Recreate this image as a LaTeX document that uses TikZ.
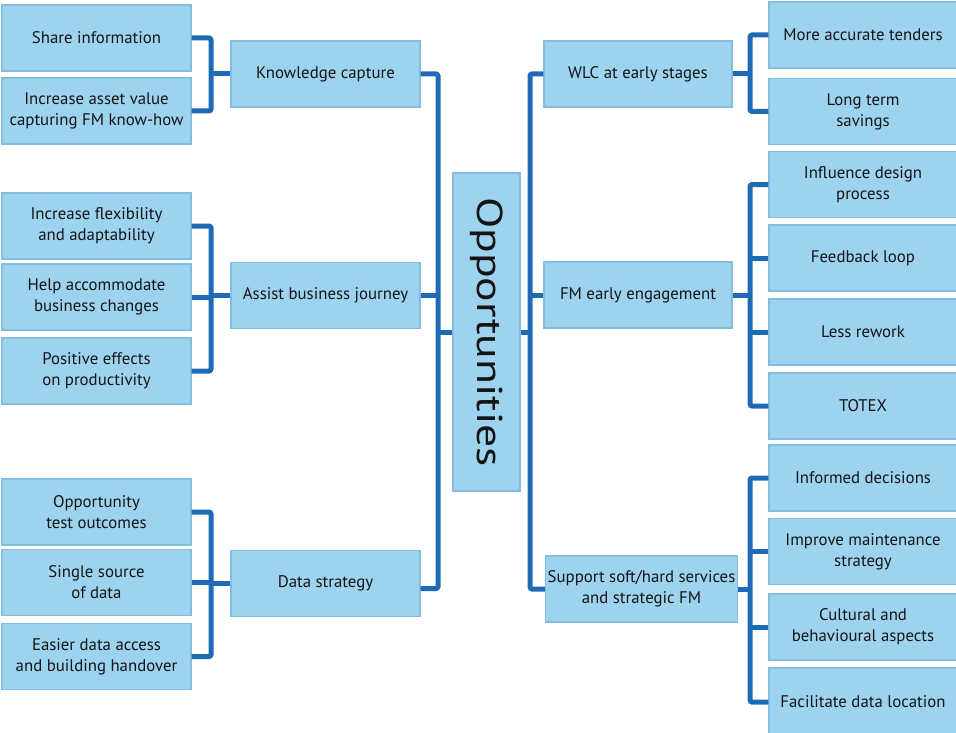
\documentclass[tikz,border=0pt]{standalone}
\usepackage{fontspec}
\setmainfont{PT Sans}
\usetikzlibrary{calc}
\definecolor{boxfill}{RGB}{157,211,239}
\definecolor{boxline}{RGB}{128,190,226}
\definecolor{linkblue}{RGB}{30,106,180}
\definecolor{ink}{RGB}{20,20,22}
\begin{document}
\begin{tikzpicture}[x=1pt,y=-1pt,
  box/.style={draw=boxline, line width=1.2pt, fill=boxfill, text=ink,
    align=center, inner sep=2pt, minimum width=189pt, minimum height=66pt,
    font=\fontsize{16.8}{21}\selectfont},
  hub/.style={box, minimum width=67pt, minimum height=318pt,
    font=\fontsize{36}{40}\selectfont},
  link/.style={draw=linkblue, line width=5pt, line join=round, rounded corners=1.5pt}]
\useasboundingbox (0,0) rectangle (956,733);

% bar positions of the brackets
\coordinate (xK) at (211,0);
\coordinate (xL) at (438,0);
\coordinate (xR) at (530,0);
\coordinate (xW) at (750,0);

% centre
\node[hub] (opp) at (486.5,332) {\rotatebox{-90}{\scalebox{1.27}[1]{Opportunities}}};

% left branch
\node[box] (know)   at (325.5,74)    {Knowledge capture};
\node[box] (assist) at (325.5,295.5) {Assist business journey};
\node[box] (data)   at (325.5,583.5) {Data strategy};

\node[box] (share)  at (96.5,38)    {Share information};
\node[box] (asset)  at (96.5,111)   {Increase asset value\\capturing FM know-how};
\node[box] (flex)   at (96.5,226)   {Increase flexibility\\and adaptability};
\node[box] (help)   at (96.5,297)   {Help accommodate\\business changes};
\node[box] (posit)  at (96.5,371)   {Positive effects\\on productivity};
\node[box] (test)   at (96.5,512)   {Opportunity\\test outcomes};
\node[box] (single) at (96.5,582.5) {Single source\\of data};
\node[box] (easier) at (96.5,656.5) {Easier data access\\and building handover};

% right branch
\node[box, minimum width=188pt] (wlc) at (638,74) {WLC at early stages};
\node[box, minimum width=188pt] (fm)  at (638,295) {FM early engagement};
\node[box] (support) at (641.5,589) {Support soft/hard services\\and strategic FM};

\node[box, minimum width=188pt] (tenders)  at (863,35)    {More accurate tenders};
\node[box, minimum width=188pt] (savings)  at (863,111.5) {Long term\\savings};
\node[box, minimum width=188pt] (influence) at (863,184.5) {Influence design\\process};
\node[box, minimum width=188pt] (feedback) at (863,258)   {Feedback loop};
\node[box, minimum width=188pt] (rework)   at (863,332)   {Less rework};
\node[box, minimum width=188pt] (totex)    at (863,406)   {TOTEX};
\node[box, minimum width=188pt] (informed) at (863,478)   {Informed decisions};
\node[box, minimum width=188pt] (improve)  at (863,551.5) {Improve maintenance\\strategy};
\node[box, minimum width=188pt] (cultural) at (863,627)   {Cultural and\\behavioural aspects};
\node[box, minimum width=188pt, minimum height=68pt] (facil) at (863,702) {Facilitate data location};

% left brackets
\draw[link] (share.east) -| (xK |- asset.east) -- (asset.east);
\draw[link] (know.west) -- (xK |- know.west);
\draw[link] (flex.east) -| (xK |- posit.east) -- (posit.east);
\draw[link] (help.east) -- (xK |- help.east);
\draw[link] (assist.west) -- (xK |- assist.west);
\draw[link] (test.east) -| (xK |- easier.east) -- (easier.east);
\draw[link] (single.east) -- (xK |- single.east);
\draw[link] (data.west) -- (xK |- data.west);

% main left spine
\coordinate (dataout) at ($(data.east)+(0,5)$);
\draw[link] (know.east) -| (xL |- dataout) -- (dataout);
\draw[link] (assist.east) -- (xL |- assist.east);
\draw[link] (opp.west) -- (xL |- opp.west);

% main right spine
\draw[link] (wlc.west) -| (xR |- support.west) -- (support.west);
\draw[link] (fm.west) -- (xR |- fm.west);
\draw[link] (opp.east) -- (xR |- opp.east);

% right brackets
\draw[link] (tenders.west) -| (xW |- savings.west) -- (savings.west);
\draw[link] (wlc.east) -- (xW |- wlc.east);
\draw[link] (influence.west) -| (xW |- totex.west) -- (totex.west);
\draw[link] (feedback.west) -- (xW |- feedback.west);
\draw[link] (rework.west) -- (xW |- rework.west);
\draw[link] (fm.east) -- (xW |- fm.east);
\draw[link] (informed.west) -| (xW |- facil.west) -- (facil.west);
\draw[link] (improve.west) -- (xW |- improve.west);
\draw[link] (cultural.west) -- (xW |- cultural.west);
\draw[link] (support.east) -- (xW |- support.east);
\end{tikzpicture}
\end{document}
